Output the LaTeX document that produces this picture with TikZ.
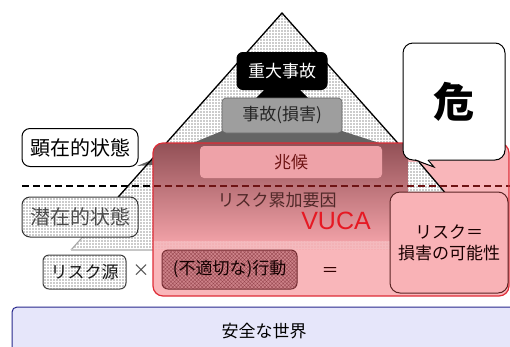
\documentclass[tikz,border=0pt]{standalone}
\usepackage{fontspec}
\setmainfont{Noto Sans CJK JP}
\newfontfamily\latinsans{Liberation Sans}
\usetikzlibrary{patterns.meta}
\definecolor{pinkbg}{RGB}{249,182,186}
\definecolor{pinkborder}{RGB}{222,45,55}
\definecolor{gradtop}{RGB}{146,80,86}
\definecolor{gradbot}{RGB}{240,160,166}
\definecolor{pinkband}{RGB}{244,186,190}
\definecolor{choukoufill}{RGB}{238,162,168}
\definecolor{darkred}{RGB}{110,20,20}
\definecolor{koudoufill}{RGB}{205,130,137}
\definecolor{koudouhatch}{RGB}{150,70,78}
\definecolor{koudouborder}{RGB}{110,40,45}
\definecolor{riskfill}{RGB}{249,178,182}
\definecolor{riskborder}{RGB}{90,35,35}
\definecolor{lav}{RGB}{230,230,250}
\definecolor{navytwo}{RGB}{40,40,140}
\definecolor{jikofill}{RGB}{158,158,158}
\definecolor{tailgrey}{RGB}{100,100,100}
\definecolor{vucared}{RGB}{230,25,35}
\definecolor{ruikantext}{RGB}{80,40,40}
\newcommand{\fsz}[1]{\fontsize{#1}{#1}\selectfont}
\begin{document}
\begin{tikzpicture}[x=1pt,y=-1pt,
  box/.style={rounded corners=6pt, draw, line width=1pt, align=center, inner sep=0pt},
  dotfill/.style={pattern={Dots[distance=3pt,radius=0.8pt]}, pattern color=gray!80},
  mydash/.style={dash pattern=on 7pt off 4pt, line width=1.8pt},
  stipplebox/.style={box, preaction={fill=white}, dotfill}
]
\useasboundingbox (0,0) rectangle (510,346);
\clip (0,0) rectangle (510,346);

% pyramid
\coordinate (apex) at (282,13);
\coordinate (bl) at (71,250);
\coordinate (br) at (493,250);
\coordinate (lg) at (82.6,237);
\coordinate (pl) at (153,250);
\fill[white] (apex)--(bl)--(br)--cycle;
\fill[dotfill] (apex)--(bl)--(br)--cycle;

% callout tails of the pyramid levels
\fill[tailgrey] (222,131)--(342,131)--(395,148)--(137,166)--cycle;
\fill[black] (266,88)--(298,88)--(309,99)--(255,99)--cycle;

% pyramid edges
\draw[line width=1.3pt] (lg)--(apex)--(br);
\draw[gray!70, line width=1.1pt] (lg)--(bl);
\draw[gray!45, line width=1.2pt] (bl)--(pl);

% dashed boundary (outside the pink area)
\coordinate (dl) at (22,186);
\coordinate (dr) at (512,186);
\draw[mydash] (dl)--(dr);

% pink area
\fill[pinkbg, rounded corners=10pt] (153,143) rectangle (509,296);
\begin{scope}
  \clip[rounded corners=10pt] (153,143) rectangle (509,296);
  \shade[top color=gradtop, bottom color=gradbot] (153,143) rectangle (408,241);
  \fill[pinkband] (153,241) rectangle (392,249);
  \fill[dotfill, pattern color=white!60!pinkborder] (153,241) rectangle (392,249);
  \fill[white] (408,162)--(419,162)--(447,195)--(408,195)--cycle;
  \fill[dotfill] (408,162)--(419,162)--(447,195)--(408,195)--cycle;
  \draw[line width=1.3pt] (419,162)--(447,195);
  \draw[mydash, darkred] (dl)--(dr);
\end{scope}
\draw[pinkborder, line width=1.2pt, rounded corners=10pt] (153,143) rectangle (509,296);

% level boxes
\node[fill=choukoufill, rounded corners=4pt, minimum width=182pt, minimum height=32pt, inner sep=0pt, text=darkred]
  (choukou) at (291,162) {\fsz{17}兆候};
\node[box, fill=black, text=white, minimum width=90pt, minimum height=37pt]
  (juudai) at (282,71) {\fsz{17}重大事故};
\node[box, draw=gray!80!black, fill=jikofill, text=black!85, rounded corners=4pt, line width=0.6pt,
  minimum width=120pt, minimum height=35pt] (jiko) at (282,115.5) {\fsz{17}事故(損害)};

\node[text=ruikantext, inner sep=0pt] (ruikan) at (277,200) {\fsz{17}リスク累加要因};
\node[text=vucared, inner sep=0pt] (vuca) at (336,221) {\latinsans\fsz{25}VUCA};

% state boxes
\node[box, fill=white, rounded corners=8pt, minimum width=116pt, minimum height=38pt]
  (kenzai) at (80,147.5) {\fsz{20}顕在的状態};
\node[stipplebox, draw=black!80, rounded corners=8pt, minimum width=116pt, minimum height=40pt, text=black!70]
  (senzai) at (80,217) {\fsz{20}潜在的状態};

% formula row
\node[stipplebox, draw=black!75, minimum width=83pt, minimum height=34pt, text=black!90]
  (risksrc) at (84.5,272) {\fsz{17}リスク源};
\node[text=black!70, inner sep=0pt] (times) at (141,271) {\fsz{17}×};
\node[box, draw=koudouborder, fill=koudoufill, text=black!80!red!40!black,
  postaction={pattern={Hatch[angle=45,distance=2.6pt,line width=0.35pt]}, pattern color=koudouhatch},
  minimum width=135pt, minimum height=39pt] (koudou) at (229.5,269.5) {\fsz{17}(不適切な)行動};
\node[text=black!60!red!50!black, inner sep=0pt] (eq) at (330,272) {\fsz{17}＝};
\node[box, draw=riskborder, fill=riskfill, rounded corners=10pt, text=black!80!red!50!black,
  font={\fontsize{17}{21}\selectfont},
  minimum width=118pt, minimum height=101pt] (risk) at (449,242.5)
  {リスク＝\\損害の可能性};

% kiken callout
\node[box, fill=white, rounded corners=10pt, minimum width=102pt, minimum height=117pt]
  (kiken) at (454,101.5) {\fsz{41}\bfseries 危};
\coordinate (tailA) at (415,160);
\coordinate (tailB) at (434,167);
\coordinate (tailC) at (428,160);
\fill[white] (415,158.8)--(tailB)--(428,158.8)--cycle;
\draw[line width=1pt] (tailA)--(tailB)--(tailC);

% safe world
\draw[fill=lav, draw=navytwo, line width=1pt, rounded corners=5pt] (12,307) rectangle (530,370);
\node[inner sep=0pt] (anzen) at (264,331) {\fsz{17}安全な世界};
\end{tikzpicture}
\end{document}
